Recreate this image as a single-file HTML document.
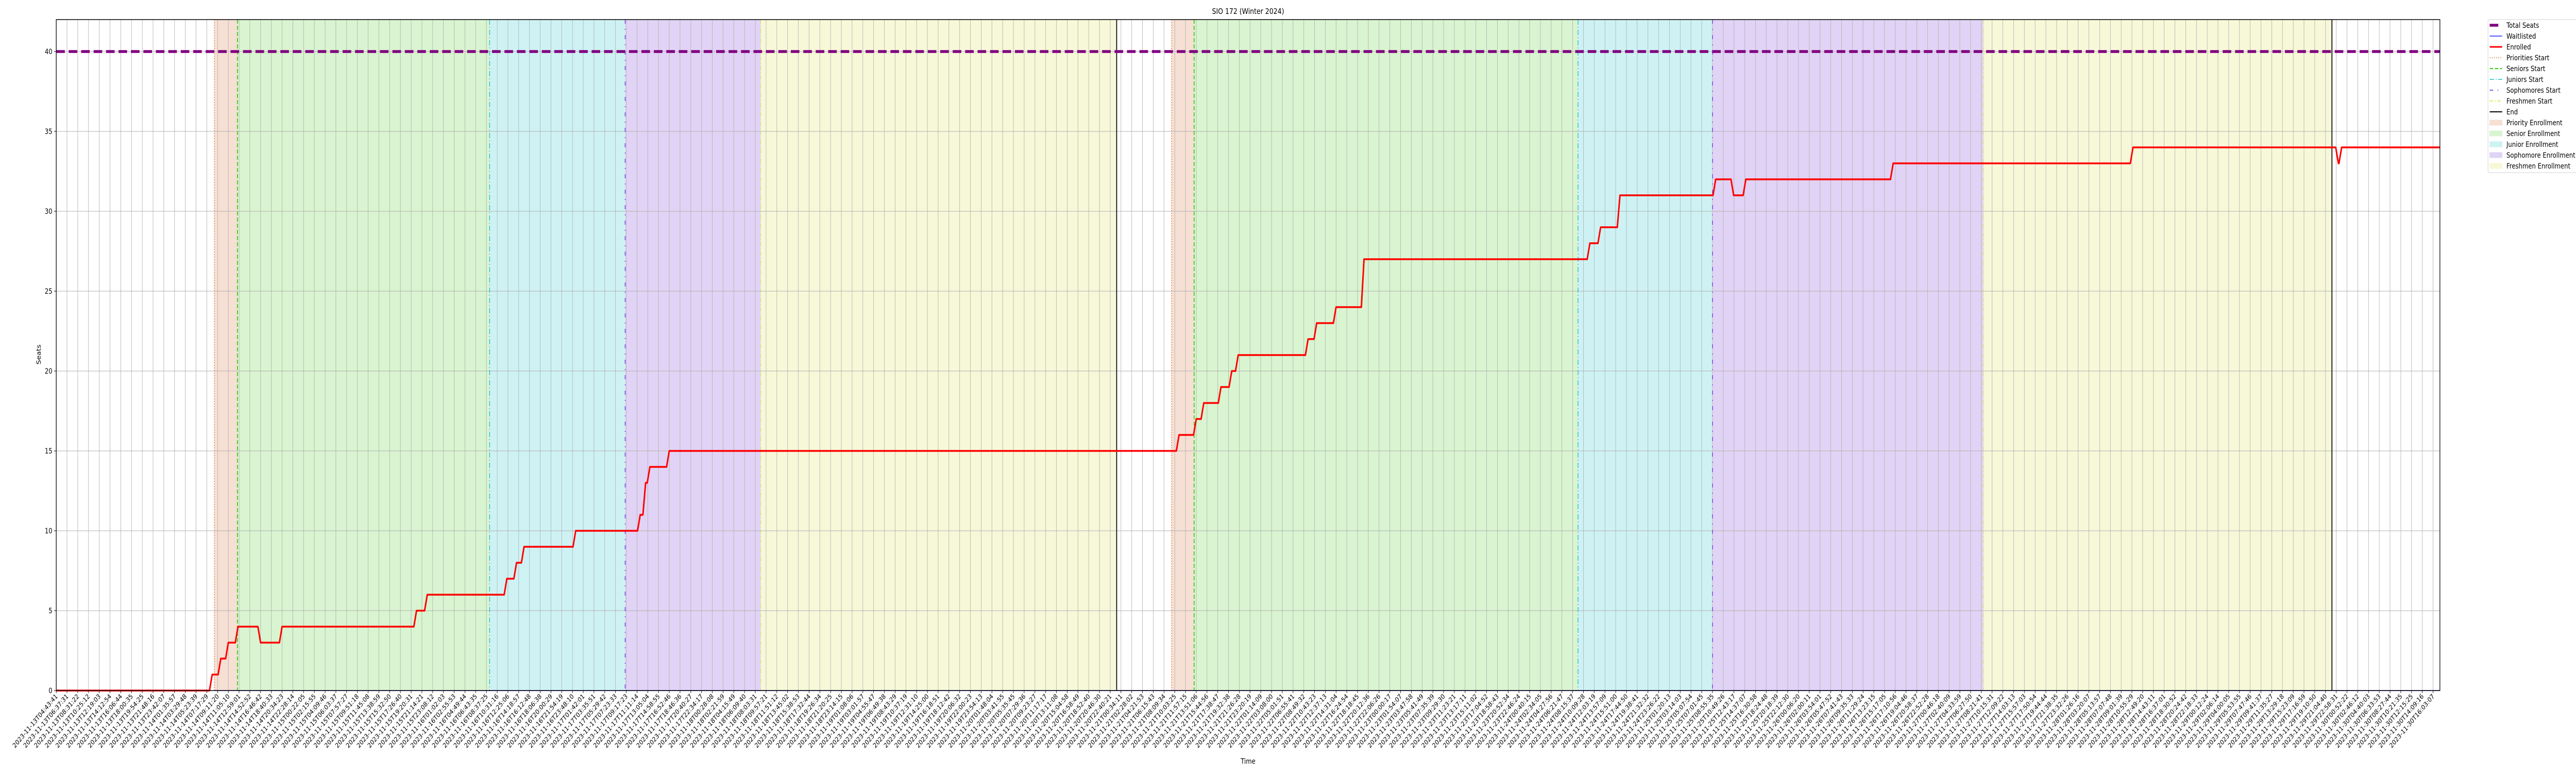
<!DOCTYPE html>
<html>
<head>
<meta charset="utf-8">
<style>
  html, body { margin: 0; padding: 0; background: #fff; width: 100%; height: 100%; overflow: hidden; }
  svg { display: block; width: 100vw; height: 100vh; font-family: "DejaVu Sans", "Liberation Sans", sans-serif; }
</style>
</head>
<body>
<svg id="chart" viewBox="0 0 6000 1500" preserveAspectRatio="none" xmlns="http://www.w3.org/2000/svg">
  <rect x="0" y="0" width="6000" height="1500" fill="#ffffff"/>
  <text x="2907" y="27" font-size="15" text-anchor="middle" fill="#000">SIO 172 (Winter 2024)</text>
  <text x="0" y="0" font-size="14" text-anchor="middle" fill="#000" transform="translate(95,688) rotate(-90)">Seats</text>
  <text x="2907" y="1482" font-size="14" text-anchor="middle" fill="#000">Time</text>
  <g id="plot"></g>
  <g id="legend"></g>
</svg>
<script>
// ---- data (x in tick-index units, tick i = i-th labelled sample) ----
const yTicks = [0, 5, 10, 15, 20, 25, 30, 35, 40];
const totalSeats = 40;
const firstLabelTime = "2023-11-13T04:43:41";
const lastLabelTime = "2023-11-30T16:03:07";
const tickCount = 222;
const xMax = 221.7;
const yMax = 42;

const prioritiesStart = [14.7, 103.7];
const seniorsStart = [16.85, 105.8];
const juniorsStart = [40.3, 141.5];
const sophomoresStart = [52.9, 154.0];
const freshmenStart = [65.5, 179.2];
const endTimes = [98.6, 211.6];

const enrolledX = [0, 14.5, 15.3, 16.0, 16.9, 19.0, 21.0, 33.5, 34.5, 41.9, 42.8, 43.5, 48.3, 54.3, 54.8, 55.2, 57.0,
  104.4, 106.0, 106.7, 108.3, 109.3, 109.9, 116.4, 117.2, 119.0, 121.6, 142.6, 143.6, 145.4,
  154.3, 155.97, 157.1, 170.8, 193.1, 212.2, 212.5];
const enrolledVal = [0, 1, 2, 3, 4, 3, 4, 5, 6, 7, 8, 9, 10, 11, 13, 14, 15,
  16, 17, 18, 19, 20, 21, 22, 23, 24, 27, 28, 29, 31,
  32, 31, 32, 33, 34, 33, 34];
const waitlistStart = 14.7;
const waitlistVal = 0;

// ---- scales ----
const L = 131, R = 5683, T = 38, B = 1340;
const tickStep = 25.05;
function xs(i) { return L + i * tickStep; }
function ys(v) { return B - v * (B - T) / yMax; }

const NS = "http://www.w3.org/2000/svg";
const plot = document.getElementById('plot');
function mk(tag, attrs, parent) {
  const e = document.createElementNS(NS, tag);
  for (const k in attrs) e.setAttribute(k, attrs[k]);
  (parent || plot).appendChild(e);
  return e;
}

// shaded spans
const spanColors = ['#f6dfd3', '#d9f4d0', '#cef2f4', '#e1d3f5', '#f7f8d8'];
const spanNames = ['priority-enrollment-span', 'senior-enrollment-span', 'junior-enrollment-span', 'sophomore-enrollment-span', 'freshmen-enrollment-span'];
for (let p = 0; p < 2; p++) {
  const bounds = [prioritiesStart[p], seniorsStart[p], juniorsStart[p], sophomoresStart[p], freshmenStart[p], endTimes[p]];
  for (let k = 0; k < 5; k++) {
    const r = mk('rect', {x: xs(bounds[k]), y: T, width: xs(bounds[k+1]) - xs(bounds[k]), height: B - T, fill: spanColors[k]});
    
    
  }
}

// grid
for (let i = 0; i < tickCount; i++) {
  const g = mk('line', {x1: xs(i), x2: xs(i), y1: T, y2: B, stroke: '#b0b0b0', 'stroke-width': 1});
  
  
}
yTicks.forEach(v => {
  const g = mk('line', {x1: L, x2: R, y1: ys(v), y2: ys(v), stroke: '#b0b0b0', 'stroke-width': 1});
  
  
});

// vertical marker lines
function vline(arr, color, dash, width, name) {
  arr.forEach(x => {
    const l = mk('line', {x1: xs(x), x2: xs(x), y1: T, y2: B, stroke: color, 'stroke-width': width, 'stroke-dasharray': dash});
    
    
  });
}
vline(prioritiesStart, '#ee6a33', '2,3', 1.5, 'priorities-start-line');
vline(seniorsStart, '#33cc11', '8,4', 2, 'seniors-start-line');
vline(juniorsStart, '#11c0cc', '10,4,2,4', 1.5, 'juniors-start-line');
vline(sophomoresStart, '#6622dd', '8,10,2,10', 1.5, 'sophomores-start-line');
vline(freshmenStart, '#dddd33', '8,4,2,4', 1, 'freshmen-start-line');
vline(endTimes, '#000000', '', 2, 'end-line');

// total seats
const ts = mk('line', {x1: L, x2: R, y1: ys(totalSeats), y2: ys(totalSeats), stroke: '#800080', 'stroke-width': 5.5, 'stroke-dasharray': '20,9'});



// waitlisted
const wl = mk('line', {x1: xs(waitlistStart), x2: R, y1: ys(waitlistVal), y2: ys(waitlistVal), stroke: '#2222ff', 'stroke-width': 1.5});



// enrolled
let d = 'M' + xs(enrolledX[0]) + ',' + ys(enrolledVal[0]);
for (let i = 1; i < enrolledX.length; i++) {
  d += ' L' + xs(enrolledX[i] - 0.25) + ',' + ys(enrolledVal[i-1]);
  d += ' L' + xs(enrolledX[i]) + ',' + ys(enrolledVal[i]);
}
d += ' L' + R + ',' + ys(enrolledVal[enrolledVal.length - 1]);
const en = mk('path', {d: d, fill: 'none', stroke: '#ff0000', 'stroke-width': 3.5, 'stroke-linejoin': 'round'});



// axes frame
const frame = mk('rect', {x: L, y: T, width: R - L, height: B - T, fill: 'none', stroke: '#000', 'stroke-width': 1.5});



// y ticks
yTicks.forEach(v => {
  const t = mk('line', {x1: L - 5, x2: L, y1: ys(v), y2: ys(v), stroke: '#000', 'stroke-width': 1});
  
  
  const lb = mk('text', {x: L - 9, y: ys(v) + 5, 'font-size': 14, 'text-anchor': 'end', fill: '#000'});
  lb.textContent = String(v);
  
  
});

// x ticks & labels
const t0 = Date.parse(firstLabelTime + 'Z'), t1 = Date.parse(lastLabelTime + 'Z');
function pad(n) { return String(n).padStart(2, '0'); }
function fmt(ms) {
  const dt = new Date(ms);
  return dt.getUTCFullYear() + '-' + pad(dt.getUTCMonth() + 1) + '-' + pad(dt.getUTCDate()) + 'T' +
    pad(dt.getUTCHours()) + ':' + pad(dt.getUTCMinutes()) + ':' + pad(dt.getUTCSeconds());
}
const tickLabels = [];
for (let i = 0; i < tickCount; i++) tickLabels.push(fmt(t0 + (t1 - t0) * i / (tickCount - 1)));
tickLabels.forEach((s, i) => {
  const x = xs(i);
  const t = mk('line', {x1: x, x2: x, y1: B, y2: B + 5, stroke: '#000', 'stroke-width': 1});
  
  
  const lb = mk('text', {x: 0, y: 0, 'font-size': 13, 'text-anchor': 'end', fill: '#000', transform: 'translate(' + (x + 4) + ',' + (B + 12) + ') rotate(-45)'});
  lb.textContent = s;
  
  
});

// legend
const lg = document.getElementById('legend');
mk('rect', {x: 5795, y: 38, width: 210, height: 297, fill: '#fff', stroke: '#d0d0d0', 'stroke-width': 1, rx: 3}, lg);
const legendLabels = ['Total Seats', 'Waitlisted', 'Enrolled', 'Priorities Start', 'Seniors Start', 'Juniors Start', 'Sophomores Start', 'Freshmen Start', 'End', 'Priority Enrollment', 'Senior Enrollment', 'Junior Enrollment', 'Sophomore Enrollment', 'Freshmen Enrollment'];
const legendStyles = [
  ['line', '#800080', 5.5, '20,9'], ['line', '#2222ff', 1.5, ''], ['line', '#ff0000', 3, ''],
  ['line', '#ee6a33', 1.5, '2,3'], ['line', '#33cc11', 2, '8,4'], ['line', '#11c0cc', 1.5, '10,4,2,4'],
  ['line', '#6622dd', 1.5, '8,10,2,10'], ['line', '#dddd33', 1.5, '8,4,2,4'], ['line', '#000000', 2, ''],
  ['rect', '#f6dfd3'], ['rect', '#d9f4d0'], ['rect', '#cef2f4'], ['rect', '#e1d3f5'], ['rect', '#f7f8d8']];
legendLabels.forEach((s, i) => {
  const y = 49 + i * 21;
  const st = legendStyles[i];
  let h;
  if (st[0] === 'line') {
    h = mk('line', {x1: 5799, x2: 5828, y1: y, y2: y, stroke: st[1], 'stroke-width': st[2], 'stroke-dasharray': st[3]}, lg);
  } else {
    h = mk('rect', {x: 5799, y: y - 5, width: 29, height: 10, fill: st[1], stroke: st[1]}, lg);
  }
  
  
  const tx = mk('text', {x: 5838, y: y + 5, 'font-size': 14, fill: '#000'}, lg);
  tx.textContent = s;
  
  
});
</script>
</body>
</html>
